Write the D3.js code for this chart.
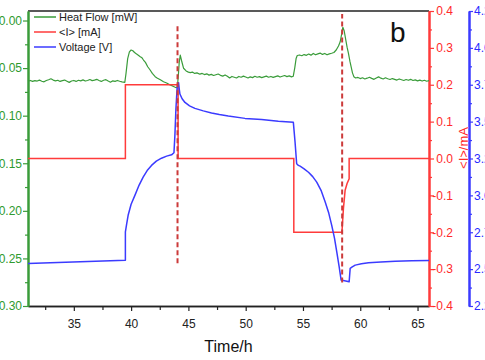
<!DOCTYPE html>
<html><head><meta charset="utf-8">
<script src="https://cdn.jsdelivr.net/npm/d3@7"></script>
<style>
body{margin:0;background:#fff;}
svg{display:block;font-family:"Liberation Sans",Arial,sans-serif;}
</style>
</head><body>
<svg id="c" width="485" height="360"></svg>
<script>
// ---- data ----
const timeTicks = [35, 40, 45, 50, 55, 60, 65];
const heatTicks = [0, -0.05, -0.10, -0.15, -0.20, -0.25, -0.30];
const currentTicks = [0.4, 0.3, 0.2, 0.1, 0.0, -0.1, -0.2, -0.3, -0.4];
const voltageTicks = [4.25, 4.00, 3.75, 3.50, 3.25, 3.00, 2.75, 2.50, 2.25];

const heatFlowData = [
[31.0,-0.0638],[31.2,-0.0630],[31.4,-0.0640],[31.6,-0.0632],[31.8,-0.0636],[32.0,-0.0626],[32.2,-0.0638],[32.4,-0.0644],
[32.6,-0.0630],[32.8,-0.0622],[33.0,-0.0612],[33.2,-0.0626],[33.4,-0.0634],[33.6,-0.0628],[33.8,-0.0640],[34.0,-0.0632],
[34.2,-0.0626],[34.4,-0.0638],[34.6,-0.0650],[34.8,-0.0636],[35.0,-0.0630],[35.2,-0.0640],[35.4,-0.0628],[35.6,-0.0634],
[35.8,-0.0624],[36.0,-0.0636],[36.2,-0.0630],[36.4,-0.0620],[36.6,-0.0632],[36.8,-0.0626],[37.0,-0.0618],[37.2,-0.0630],
[37.4,-0.0640],[37.6,-0.0628],[37.8,-0.0622],[38.0,-0.0636],[38.2,-0.0648],[38.4,-0.0634],[38.6,-0.0640],[38.8,-0.0630],
[39.0,-0.0638],[39.2,-0.0644],[39.45,-0.0650],
[39.55,-0.0560],[39.7,-0.0400],[39.85,-0.0330],[40.0,-0.0310],[40.15,-0.0318],[40.3,-0.0336],[40.45,-0.0350],[40.6,-0.0362],
[40.8,-0.0380],[40.95,-0.0392],[41.08,-0.0415],[41.25,-0.0440],[41.45,-0.0486],[41.66,-0.0520],[41.85,-0.0556],[42.1,-0.0590],
[42.3,-0.0606],[42.55,-0.0622],[42.83,-0.0643],[43.1,-0.0656],[43.41,-0.0678],[43.65,-0.0690],[43.85,-0.0702],[44.03,-0.0706],
[44.12,-0.0580],[44.2,-0.0440],[44.29,-0.0363],[44.4,-0.0420],[44.58,-0.0502],[44.8,-0.0530],[45.0,-0.0542],[45.16,-0.0548],
[45.35,-0.0542],[45.55,-0.0556],[45.75,-0.0550],[46.0,-0.0564],[46.2,-0.0556],[46.4,-0.0568],[46.6,-0.0560],[46.8,-0.0574],
[47.0,-0.0566],[47.2,-0.0578],[47.4,-0.0570],[47.6,-0.0562],[47.8,-0.0576],[48.0,-0.0584],[48.2,-0.0572],[48.4,-0.0586],
[48.6,-0.0604],[48.8,-0.0588],[49.0,-0.0596],[49.2,-0.0604],[49.4,-0.0588],[49.6,-0.0596],[49.8,-0.0584],[50.0,-0.0594],
[50.2,-0.0604],[50.4,-0.0592],[50.6,-0.0600],[50.8,-0.0586],[51.0,-0.0596],[51.2,-0.0590],[51.4,-0.0600],[51.6,-0.0592],
[51.8,-0.0584],[52.0,-0.0596],[52.2,-0.0588],[52.4,-0.0598],[52.6,-0.0590],[52.8,-0.0582],[53.0,-0.0594],[53.2,-0.0586],
[53.4,-0.0578],[53.6,-0.0590],[53.8,-0.0582],[54.0,-0.0592],[54.15,-0.0586],
[54.28,-0.0500],[54.4,-0.0400],[54.5,-0.0368],[54.7,-0.0362],[54.9,-0.0370],[55.1,-0.0358],[55.3,-0.0366],[55.5,-0.0352],
[55.7,-0.0364],[55.9,-0.0346],[56.1,-0.0360],[56.3,-0.0350],[56.5,-0.0342],[56.7,-0.0356],[56.9,-0.0346],[57.1,-0.0360],
[57.3,-0.0350],[57.5,-0.0344],[57.7,-0.0336],[57.9,-0.0310],[58.1,-0.0268],[58.25,-0.0223],[58.38,-0.0140],[58.48,-0.0071],
[58.6,-0.0110],[58.74,-0.0205],[58.85,-0.0280],[58.97,-0.0345],[59.1,-0.0430],[59.2,-0.0485],[59.32,-0.0550],[59.44,-0.0590],
[59.6,-0.0604],[59.8,-0.0598],[60.0,-0.0610],[60.2,-0.0602],[60.4,-0.0614],[60.6,-0.0606],[60.8,-0.0596],[61.0,-0.0608],
[61.2,-0.0618],[61.4,-0.0604],[61.6,-0.0592],[61.8,-0.0606],[62.0,-0.0614],[62.2,-0.0602],[62.4,-0.0612],[62.6,-0.0620],
[62.8,-0.0610],[63.0,-0.0618],[63.2,-0.0626],[63.4,-0.0614],[63.6,-0.0622],[63.8,-0.0630],[64.0,-0.0620],[64.2,-0.0628],
[64.4,-0.0618],[64.6,-0.0630],[64.8,-0.0624],[65.0,-0.0634],[65.2,-0.0626],[65.4,-0.0636],[65.6,-0.0628],[65.8,-0.0638],
[66.0,-0.0632]
];

const currentTime  = [31, 39.5, 39.5, 44.1, 44.1, 54.2, 54.2, 58.4, 58.53, 58.68, 58.85, 59.03, 59.03, 66];
const currentValue = [0,  0,    0.2,  0.2,  0,    0,    -0.2, -0.2, -0.136, -0.086, -0.068, -0.055, 0, 0];

const voltageTime = [31.0, 39.5, 39.5, 39.62, 39.74, 40.0, 40.33, 40.7, 41.05, 41.4, 41.78, 42.2, 42.65, 43.1, 43.53, 43.74,
  43.82, 43.91, 44.02, 44.14, 44.2, 44.26, 44.45, 44.7, 45.1, 45.57, 46.3, 47.02, 47.7, 48.48, 49.94, 51.39, 52.85, 54.16,
  54.31, 54.45, 54.6, 54.75, 55.1, 55.48, 55.85, 56.2, 56.6, 56.94, 57.25, 57.51, 57.75, 57.95, 58.15, 58.33, 59.03,
  59.12, 59.3, 59.56, 60.1, 60.72, 61.8, 63.05, 64.5, 66.0];
const voltageValue = [2.538, 2.561, 2.752, 2.81, 2.865, 2.94, 3.000, 3.07, 3.124, 3.168, 3.203, 3.232, 3.252, 3.266, 3.275, 3.289,
  3.405, 3.586, 3.732, 3.764, 3.72, 3.687, 3.655, 3.630, 3.607, 3.590, 3.573, 3.559, 3.548, 3.538, 3.522, 3.514, 3.502, 3.495,
  3.360, 3.214, 3.203, 3.198, 3.180, 3.157, 3.127, 3.090, 3.030, 2.955, 2.88, 2.797, 2.71, 2.617, 2.52, 2.426, 2.414,
  2.505, 2.515, 2.527, 2.537, 2.543, 2.549, 2.554, 2.557, 2.559];

// dashed marker lines (time, low and high ends in voltage units)
const markerTime = [44.05, 58.42];
const markerLow  = [2.54, 2.41];
const markerHigh = [4.16, 4.23];

const legendLabels = ["Heat Flow [mW]", "<I> [mA]", "Voltage [V]"];

// ---- layout ----
const L = 28, R = 429, T = 11, B = 306, VX = 469;
const cGreen = "#3a9c3a", cGreenTxt = "#2f9a2f", cRed = "#ff3b3b", cRedTxt = "#ff2a2a", cBlue = "#3b3bff", cBlueTxt = "#2a2aff";

const svg = d3.select("#c");
const x = d3.scaleLinear().domain([31, 66]).range([L, R]);
const yH = d3.scaleLinear().domain([-0.30, 0.01]).range([B, T]);
const yI = d3.scaleLinear().domain([-0.4, 0.4]).range([B, T]);
const yV = d3.scaleLinear().domain([2.25, 4.25]).range([B, T]);

const fmtDash = f => (d => f(d).replace("\u2212", "-"));

// top border
svg.append("line").attr("x1", L).attr("x2", R).attr("y1", T).attr("y2", T)
  .attr("stroke", "#222").attr("stroke-width", 1.5);

function styleAxis(g, color, txtColor, w) {
  g.select(".domain").attr("stroke", color).attr("stroke-width", w);
  g.selectAll(".tick line").attr("stroke", color).attr("stroke-width", 1.2);
  g.selectAll(".tick text").attr("fill", txtColor).attr("font-size", 12);
}

// x axis
const minorX = [32.5, 37.5, 42.5, 47.5, 52.5, 57.5, 62.5];
let gx = svg.append("g").attr("transform", `translate(0,${B})`)
  .call(d3.axisBottom(x).tickValues(minorX).tickSize(4).tickSizeOuter(0).tickFormat(""));
styleAxis(gx, "#222", "#222", 1.5);
gx = svg.append("g").attr("transform", `translate(0,${B})`)
  .call(d3.axisBottom(x).tickValues(timeTicks).tickSize(5).tickSizeOuter(0).tickPadding(8).tickFormat(d3.format("d")));
styleAxis(gx, "#222", "#222", 1.5);

// left green axis
const minorH = [-0.025, -0.075, -0.125, -0.175, -0.225, -0.275];
let gh = svg.append("g").attr("transform", `translate(${L},0)`)
  .call(d3.axisLeft(yH).tickValues(minorH).tickSize(3).tickSizeOuter(0).tickFormat(""));
styleAxis(gh, cGreen, cGreenTxt, 2);
gh = svg.append("g").attr("transform", `translate(${L},0)`)
  .call(d3.axisLeft(yH).tickValues(heatTicks).tickSize(5).tickSizeOuter(0).tickPadding(1)
    .tickFormat(d => d === 0 ? "0.00" : fmtDash(d3.format(".2f"))(d)));
styleAxis(gh, cGreen, cGreenTxt, 2);

// right red axis
const minorI = [0.35, 0.25, 0.15, 0.05, -0.05, -0.15, -0.25, -0.35];
let gi = svg.append("g").attr("transform", `translate(${R},0)`)
  .call(d3.axisRight(yI).tickValues(minorI).tickSize(3).tickSizeOuter(0).tickFormat(""));
styleAxis(gi, cRed, cRedTxt, 2);
gi = svg.append("g").attr("transform", `translate(${R},0)`)
  .call(d3.axisRight(yI).tickValues(currentTicks).tickSize(5).tickSizeOuter(0).tickPadding(4)
    .tickFormat(fmtDash(d3.format(".1f"))));
styleAxis(gi, cRed, cRedTxt, 2);
gi.selectAll(".tick text").attr("text-anchor", "end").attr("x", 24);

// far right blue axis
const minorV = [4.125, 3.875, 3.625, 3.375, 3.125, 2.875, 2.625, 2.375];
let gv = svg.append("g").attr("transform", `translate(${VX},0)`)
  .call(d3.axisRight(yV).tickValues(minorV).tickSize(3).tickSizeOuter(0).tickFormat(""));
styleAxis(gv, cBlue, cBlueTxt, 2);
gv = svg.append("g").attr("transform", `translate(${VX},0)`)
  .call(d3.axisRight(yV).tickValues(voltageTicks).tickSize(4).tickSizeOuter(0).tickPadding(1)
    .tickFormat(d3.format(".2f")));
styleAxis(gv, cBlue, cBlueTxt, 2);

// axis titles
svg.append("text").attr("x", (L + R) / 2).attr("y", 352).attr("text-anchor", "middle")
  .attr("font-size", 16).attr("fill", "#111").text("Time/h");
svg.append("text").attr("transform", `translate(468,148) rotate(-90)`).attr("text-anchor", "middle")
  .attr("font-size", 13).attr("fill", cRedTxt).text("<I>/mA");

// series
const lineH = d3.line().x(d => x(d[0])).y(d => yH(d[1]));
svg.append("path").datum(heatFlowData).attr("d", lineH)
  .attr("fill", "none").attr("stroke", cGreen).attr("stroke-width", 1.2).attr("stroke-linejoin", "round");

const lineI = d3.line().x(i => x(currentTime[i])).y(i => yI(currentValue[i]));
svg.append("path").datum(d3.range(currentTime.length)).attr("d", lineI)
  .attr("fill", "none").attr("stroke", cRed).attr("stroke-width", 1.5);

const lineV = d3.line().x(i => x(voltageTime[i])).y(i => yV(voltageValue[i]));
svg.append("path").datum(d3.range(voltageTime.length)).attr("d", lineV)
  .attr("fill", "none").attr("stroke", cBlue).attr("stroke-width", 1.5).attr("stroke-linejoin", "round");

// dashed markers
svg.selectAll(".marker").data(markerTime).enter().append("line")
  .attr("x1", d => x(d)).attr("x2", d => x(d))
  .attr("y1", (d, i) => yV(markerLow[i])).attr("y2", (d, i) => yV(markerHigh[i]))
  .attr("stroke", "#cc3a3a").attr("stroke-width", 2).attr("stroke-dasharray", "5,3");

// legend
const legColors = [cGreen, cRed, cBlue];
const leg = svg.append("g");
legendLabels.forEach((t, i) => {
  const yy = 17 + i * 15;
  leg.append("line").attr("x1", 34).attr("x2", 56).attr("y1", yy).attr("y2", yy)
    .attr("stroke", legColors[i]).attr("stroke-width", 1.5);
  leg.append("text").attr("x", 59).attr("y", yy).attr("dy", "0.35em")
    .attr("font-size", 11).attr("fill", "#222").text(t);
});

// panel label
svg.append("text").attr("x", 390).attr("y", 42).attr("font-size", 28).attr("fill", "#111").text("b");
</script>
</body></html>
